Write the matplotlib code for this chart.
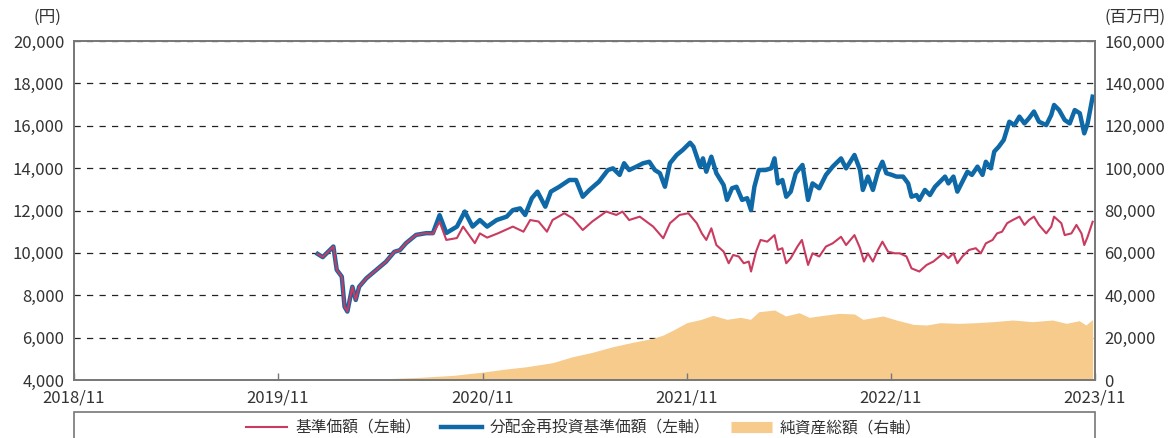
import matplotlib

matplotlib.use("Agg")
import matplotlib.pyplot as plt
import matplotlib.dates as mdates
import pandas as pd
from matplotlib.lines import Line2D
from matplotlib.patches import Rectangle

# 分配金再投資基準価額 (円)
blue_dates = [
    "2020-01-11", "2020-01-20", "2020-02-08", "2020-02-14", "2020-02-23", "2020-02-28", "2020-03-04",
    "2020-03-13", "2020-03-19", "2020-03-25", "2020-04-07", "2020-04-25", "2020-05-12", "2020-05-27",
    "2020-06-06", "2020-06-17", "2020-07-05", "2020-07-23", "2020-08-04", "2020-08-16", "2020-08-28",
    "2020-09-16", "2020-09-30", "2020-10-14", "2020-10-27", "2020-11-09", "2020-11-26", "2020-12-14",
    "2020-12-25", "2021-01-07", "2021-01-16", "2021-01-28", "2021-02-07", "2021-02-21", "2021-03-03",
    "2021-03-18", "2021-04-05", "2021-04-17", "2021-04-29", "2021-05-11", "2021-05-28", "2021-06-13",
    "2021-06-22", "2021-07-04", "2021-07-12", "2021-07-21", "2021-08-03", "2021-08-15", "2021-08-26",
    "2021-09-05", "2021-09-14", "2021-09-23", "2021-10-02", "2021-10-14", "2021-10-25", "2021-11-07",
    "2021-11-13", "2021-11-19", "2021-11-25", "2021-11-30", "2021-12-06", "2021-12-15", "2021-12-24",
    "2022-01-06", "2022-01-12", "2022-01-21", "2022-01-29", "2022-02-08", "2022-02-17", "2022-02-24",
    "2022-03-02", "2022-03-10", "2022-03-22", "2022-04-01", "2022-04-07", "2022-04-13", "2022-04-21",
    "2022-04-28", "2022-05-06", "2022-05-15", "2022-05-27", "2022-06-06", "2022-06-14", "2022-06-26",
    "2022-07-08", "2022-07-20", "2022-08-04", "2022-08-13", "2022-08-28", "2022-09-07", "2022-09-12",
    "2022-09-21", "2022-09-30", "2022-10-09", "2022-10-17", "2022-10-24", "2022-11-03", "2022-11-11",
    "2022-11-23", "2022-12-02", "2022-12-08", "2022-12-17", "2022-12-22", "2023-01-01", "2023-01-10",
    "2023-01-19", "2023-01-28", "2023-02-06", "2023-02-12", "2023-02-21", "2023-02-28", "2023-03-09",
    "2023-03-18", "2023-03-26", "2023-04-05", "2023-04-14", "2023-04-20", "2023-04-29", "2023-05-05",
    "2023-05-13", "2023-05-22", "2023-06-01", "2023-06-10", "2023-06-19", "2023-06-28", "2023-07-06",
    "2023-07-15", "2023-07-24", "2023-08-06", "2023-08-15", "2023-08-20", "2023-08-29", "2023-09-08",
    "2023-09-17", "2023-09-26", "2023-10-05", "2023-10-13", "2023-10-19", "2023-10-28",
]
blue_vals = [
    9950, 9800, 10300, 9200, 8880, 7460, 7230,
    8400, 7780, 8400, 8800, 9200, 9580, 10050,
    10130, 10460, 10850, 10930, 10930, 11780, 10940,
    11240, 11950, 11240, 11550, 11240, 11550, 11710,
    12020, 12100, 11790, 12580, 12890, 12180, 12890,
    13120, 13440, 13440, 12650, 12970, 13360, 13910,
    13990, 13680, 14230, 13910, 14070, 14230, 14300,
    13910, 13760, 13120, 14230, 14620, 14860, 15200,
    15010, 14540, 14070, 14460, 13830, 14540, 13760,
    13200, 12500, 13050, 13120, 12500, 12580, 12020,
    13120, 13910, 13910, 13990, 14460, 13280, 13440,
    12650, 12890, 13760, 14150, 12500, 13280, 13050,
    13680, 14070, 14460, 13990, 14620, 13910, 12970,
    13600, 12970, 13830, 14300, 13760, 13680, 13600,
    13600, 13280, 12650, 12730, 12500, 12970, 12730,
    13120, 13360, 13600, 13280, 13600, 12890, 13360,
    13830, 13680, 14070, 13680, 14300, 13990, 14780,
    15010, 15330, 16190, 16030, 16430, 16110, 16350,
    16670, 16190, 16030, 16510, 16980, 16740, 16270,
    16110, 16740, 16590, 15640, 16110, 17370,
]

# 基準価額 (円)
red_dates = [
    "2020-01-11", "2020-01-20", "2020-02-08", "2020-02-14", "2020-02-23", "2020-02-28", "2020-03-04",
    "2020-03-13", "2020-03-19", "2020-03-25", "2020-04-07", "2020-04-25", "2020-05-12", "2020-05-27",
    "2020-06-06", "2020-06-17", "2020-07-05", "2020-07-23", "2020-08-04", "2020-08-16", "2020-08-28",
    "2020-09-16", "2020-09-27", "2020-10-18", "2020-10-27", "2020-11-09", "2020-11-29", "2020-12-25",
    "2021-01-13", "2021-01-25", "2021-02-09", "2021-02-24", "2021-03-06", "2021-03-27", "2021-04-11",
    "2021-04-29", "2021-05-16", "2021-06-10", "2021-06-28", "2021-07-09", "2021-07-21", "2021-08-09",
    "2021-09-02", "2021-09-20", "2021-10-02", "2021-10-19", "2021-11-04", "2021-11-19", "2021-11-28",
    "2021-12-06", "2021-12-15", "2021-12-24", "2022-01-06", "2022-01-15", "2022-01-23", "2022-02-02",
    "2022-02-11", "2022-02-20", "2022-02-24", "2022-03-05", "2022-03-13", "2022-03-25", "2022-04-07",
    "2022-04-13", "2022-04-21", "2022-04-28", "2022-05-06", "2022-05-18", "2022-05-26", "2022-06-06",
    "2022-06-14", "2022-06-26", "2022-07-08", "2022-07-20", "2022-08-04", "2022-08-13", "2022-08-28",
    "2022-09-07", "2022-09-14", "2022-09-21", "2022-09-30", "2022-10-09", "2022-10-17", "2022-10-27",
    "2022-11-08", "2022-11-17", "2022-11-29", "2022-12-08", "2022-12-22", "2023-01-04", "2023-01-16",
    "2023-02-03", "2023-02-12", "2023-02-21", "2023-02-28", "2023-03-09", "2023-03-21", "2023-04-02",
    "2023-04-11", "2023-04-20", "2023-05-02", "2023-05-10", "2023-05-19", "2023-05-28", "2023-06-07",
    "2023-06-19", "2023-06-28", "2023-07-06", "2023-07-15", "2023-07-24", "2023-08-06", "2023-08-15",
    "2023-08-20", "2023-09-02", "2023-09-08", "2023-09-20", "2023-09-29", "2023-10-08", "2023-10-13",
    "2023-10-19", "2023-10-28",
]
red_vals = [
    9950, 9800, 10300, 9200, 8880, 7460, 7230,
    8400, 7780, 8400, 8800, 9200, 9580, 10050,
    10130, 10460, 10850, 10930, 10900, 11470, 10610,
    10700, 11240, 10460, 10920, 10720, 10930, 11240,
    11000, 11550, 11480, 11000, 11550, 11870, 11630,
    11080, 11480, 11950, 11790, 11950, 11550, 11710,
    11240, 10690, 11400, 11790, 11870, 11400, 10920,
    10610, 11160, 10370, 10060, 9510, 9900, 9830,
    9510, 9590, 9120, 10060, 10610, 10530, 10840,
    10140, 10220, 9510, 9750, 10300, 10610, 9430,
    9980, 9830, 10300, 10450, 10760, 10370, 10840,
    10220, 9590, 9980, 9590, 10140, 10530, 10060,
    9980, 9980, 9830, 9270, 9120, 9430, 9590,
    9980, 9750, 9980, 9510, 9830, 10140, 10220,
    9980, 10450, 10610, 10920, 11000, 11400, 11550,
    11710, 11320, 11550, 11710, 11320, 10920, 11240,
    11710, 11400, 10840, 10920, 11320, 10920, 10370,
    10760, 11470,
]

# 純資産総額 (百万円)
nav_dates = [
    "2020-01-14", "2020-04-12", "2020-07-11", "2020-09-10", "2020-11-03", "2020-12-08", "2021-01-19",
    "2021-03-06", "2021-04-11", "2021-05-16", "2021-06-22", "2021-07-27", "2021-09-02", "2021-09-20",
    "2021-10-08", "2021-11-01", "2021-11-25", "2021-12-18", "2022-01-12", "2022-02-05", "2022-02-23",
    "2022-03-10", "2022-04-07", "2022-04-27", "2022-05-21", "2022-06-08", "2022-07-08", "2022-08-01",
    "2022-08-28", "2022-09-12", "2022-10-18", "2022-11-11", "2022-12-11", "2023-01-04", "2023-01-28",
    "2023-03-03", "2023-04-02", "2023-05-02", "2023-06-07", "2023-07-12", "2023-08-17", "2023-09-11",
    "2023-10-04", "2023-10-16", "2023-10-28",
]
nav_vals = [
    100, 300, 1250, 2200, 3780, 5030, 6290,
    8180, 11010, 13050, 15730, 17780, 19670, 21240,
    23600, 27050, 28500, 30500, 28630, 29580, 28630,
    32230, 33040, 30210, 31760, 29580, 30680, 31470,
    31150, 28630, 30210, 28320, 26270, 25960, 27050,
    26740, 27050, 27520, 28320, 27520, 28320, 26740,
    28000, 25960, 28630,
]

x_ticks = ["2018-11-01", "2019-11-01", "2020-11-01", "2021-11-01", "2022-11-01", "2023-11-01"]
left_ticks = list(range(4000, 20001, 2000))
right_ticks = list(range(0, 160001, 20000))

RED = "#c93b60"
BLUE = "#0f69a7"
ORANGE = "#f6cb8c"
SPINE = "#777777"

plt.rcParams["font.family"] = ["Noto Sans CJK JP", "DejaVu Sans"]
plt.rcParams["font.size"] = 12


def main():
    fig = plt.figure(figsize=(11.7, 4.38), dpi=100)
    ax = fig.add_axes([0.0632, 0.1324, 0.8726, 0.774])
    ax2 = ax.twinx()
    ax.set_zorder(ax2.get_zorder() + 1)
    ax.patch.set_visible(False)

    nav_x = pd.to_datetime(nav_dates)
    ax2.fill_between(nav_x, nav_vals, 0, color=ORANGE, linewidth=0, zorder=2)
    ax2.set_ylim(0, 160000)
    ax2.set_yticks(right_ticks)
    ax2.set_yticklabels([f"{v:,}" for v in right_ticks])
    ax2.grid(axis="y", color="#222222", linestyle=(0, (5, 5)), linewidth=0.9, zorder=1)
    ax2.set_axisbelow(True)

    ax.plot(pd.to_datetime(blue_dates), blue_vals, color=BLUE, linewidth=3.2, solid_joinstyle="round")
    ax.plot(pd.to_datetime(red_dates), red_vals, color=RED, linewidth=1.5, solid_joinstyle="round")
    ax.set_ylim(4000, 20000)
    ax.set_yticks(left_ticks)
    ax.set_yticklabels([f"{v:,}" for v in left_ticks])

    ticks = pd.to_datetime(x_ticks)
    ax.set_xlim(ticks[0], ticks[-1])
    ax.set_xticks(ticks)
    ax.xaxis.set_major_formatter(mdates.DateFormatter("%Y/%m"))

    ax.tick_params(axis="x", direction="in", length=5, width=1, color=SPINE, pad=7, labelsize=12, labelcolor="#333333")
    ax.tick_params(axis="y", length=0, pad=7, labelsize=12, labelcolor="#333333")
    ax2.tick_params(axis="y", length=0, pad=7, labelsize=12, labelcolor="#333333")
    for a in (ax, ax2):
        for s in a.spines.values():
            s.set_color(SPINE)
            s.set_linewidth(1.2)

    fig.text(47 / 1170, 1 - 17 / 438, "(円)", ha="center", va="center", fontsize=12, color="#333333")
    fig.text(1135 / 1170, 1 - 17 / 438, "(百万円)", ha="center", va="center", fontsize=12, color="#333333")

    # legend box at the bottom
    fig.add_artist(Rectangle((0.0632, -0.1), 0.8726, 0.1 + 1 - 412 / 438, transform=fig.transFigure,
                             fill=False, edgecolor=SPINE, linewidth=1.2))
    handles = [
        Line2D([], [], color=RED, linewidth=1.5),
        Line2D([], [], color=BLUE, linewidth=3.2),
        Line2D([], [], color=ORANGE, linewidth=8, solid_capstyle="butt"),
    ]
    labels = ["基準価額（左軸）", "分配金再投資基準価額（左軸）", "純資産総額（右軸）"]
    fig.legend(handles, labels, loc="center", bbox_to_anchor=(0.499, 1 - 428 / 438), ncol=3, frameon=False,
               fontsize=11.3, handlelength=2.6, handletextpad=0.5, columnspacing=1.3, labelcolor="#333333")

    fig.savefig("out.png", dpi=100, facecolor="white")


if __name__ == "__main__":
    main()
